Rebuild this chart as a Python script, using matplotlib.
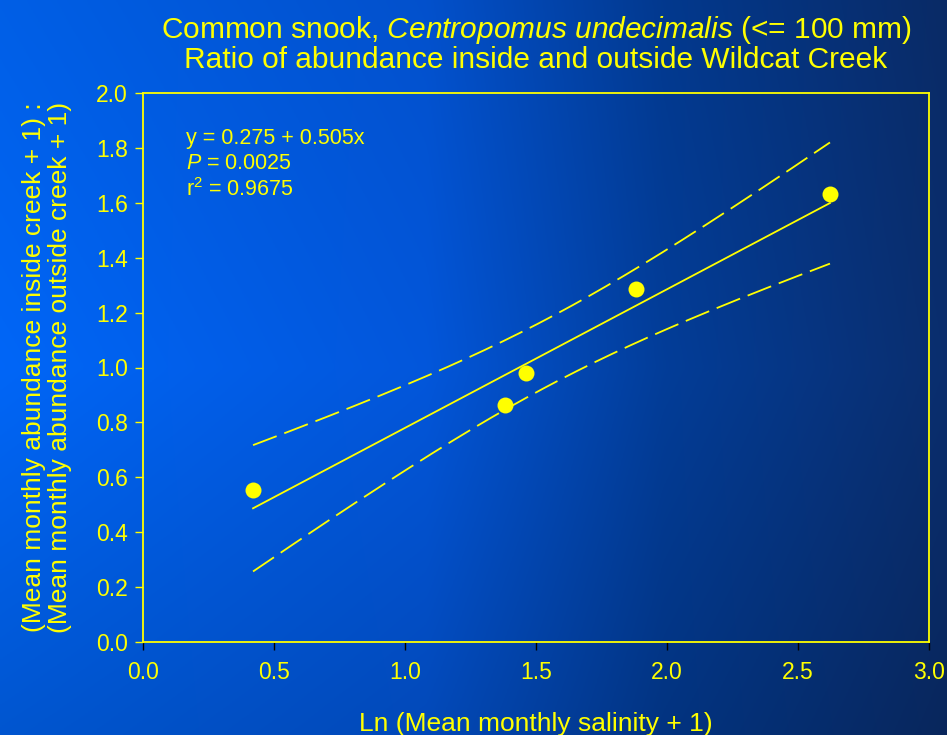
import numpy as np
import matplotlib
matplotlib.use("Agg")
import matplotlib.pyplot as plt

plt.rcParams['font.family'] = ['Liberation Sans', 'DejaVu Sans']
plt.rcParams['mathtext.fontset'] = 'custom'
plt.rcParams['mathtext.rm'] = 'Liberation Sans'
plt.rcParams['mathtext.it'] = 'Liberation Sans:italic'

# Data
ln_salinity = [0.42, 1.382, 1.462, 1.882, 2.622]
abundance_ratio = [0.554, 0.863, 0.980, 1.286, 1.632]
intercept = 0.275
slope = 0.505
t_crit = 3.182  # t(0.975, df=3)

x_ticks = [0.0, 0.5, 1.0, 1.5, 2.0, 2.5, 3.0]
y_ticks = [0.0, 0.2, 0.4, 0.6, 0.8, 1.0, 1.2, 1.4, 1.6, 1.8, 2.0]

yellow = '#ffff00'

# regression line and 95% confidence band of the mean
x = np.array(ln_salinity)
y = np.array(abundance_ratio)
xs = np.linspace(x.min(), x.max(), 200)
fit = intercept + slope * xs
resid = y - (intercept + slope * x)
s = np.sqrt(np.sum(resid ** 2) / (len(x) - 2))
sxx = np.sum((x - x.mean()) ** 2)
half = t_crit * s * np.sqrt(1 / len(x) + (xs - x.mean()) ** 2 / sxx)

fig = plt.figure(figsize=(9.47, 7.35), dpi=100)

# background gradient
bg = fig.add_axes([0, 0, 1, 1], zorder=-1)
gx = np.linspace(0, 1, 400)
gy = np.linspace(0, 1, 300)
stops = [0.0, 0.45, 0.7, 1.0]
r = np.interp(gx, stops, [0.00, 0.01, 0.01, 0.04])
g = np.interp(gx, stops, [0.40, 0.34, 0.24, 0.18])
b = np.interp(gx, stops, [0.97, 0.86, 0.60, 0.43])
shade = np.interp(gy, [0.0, 0.5, 1.0], [0.93, 1.0, 0.84])[:, None]
img = np.dstack([r[None, :] * shade, g[None, :] * shade, b[None, :] * shade])
bg.imshow(np.clip(img, 0, 1), aspect='auto', extent=[0, 1, 0, 1], origin='upper')
bg.axis('off')

ax = fig.add_axes([0.151, 0.1265, 0.830, 0.747])
ax.set_facecolor('none')

ax.plot(xs, fit, color=yellow, lw=1.3)
ax.plot(xs, fit + half, color=yellow, lw=1.3, dashes=(14, 4.5))
ax.plot(xs, fit - half, color=yellow, lw=1.3, dashes=(14, 4.5))
ax.plot(x, y, 'o', color=yellow, markersize=11.5, markeredgewidth=0)

ax.set_xlim(0, 3)
ax.set_ylim(0, 2)
ax.set_xticks(x_ticks)
ax.set_yticks(y_ticks)
ax.set_xticklabels([f'{v:.1f}' for v in x_ticks])
ax.set_yticklabels([f'{v:.1f}' for v in y_ticks])

for sp in ax.spines.values():
    sp.set_color(yellow)
    sp.set_linewidth(1.3)
ax.tick_params(axis='x', colors='black', labelcolor=yellow, labelsize=16.5,
               length=6, width=1, direction='out', pad=8)
ax.tick_params(axis='y', colors=yellow, labelcolor=yellow, labelsize=16.5,
               length=6, width=1, direction='out', pad=5)

ax.set_xlabel('Ln (Mean monthly salinity + 1)', color=yellow, fontsize=19, labelpad=20)
ax.set_ylabel('(Mean monthly abundance inside creek + 1) :\n'
              '(Mean monthly abundance outside creek + 1)',
              color=yellow, fontsize=19, linespacing=1.12, labelpad=17)

ax.set_title('Common snook, $\\it{Centropomus\\ undecimalis}$ (<= 100 mm)\n'
             'Ratio of abundance inside and outside Wildcat Creek',
             color=yellow, fontsize=21.5, linespacing=1.02, pad=18)

ax.text(0.055, 0.937, 'y = 0.275 + 0.505x', transform=ax.transAxes,
        color=yellow, fontsize=15.5, va='top')
ax.text(0.055, 0.891, '$\\it{P}$ = 0.0025', transform=ax.transAxes,
        color=yellow, fontsize=15.5, va='top')
ax.text(0.055, 0.845, 'r$^2$ = 0.9675', transform=ax.transAxes,
        color=yellow, fontsize=15.5, va='top')

fig.savefig('out.png', dpi=100)
